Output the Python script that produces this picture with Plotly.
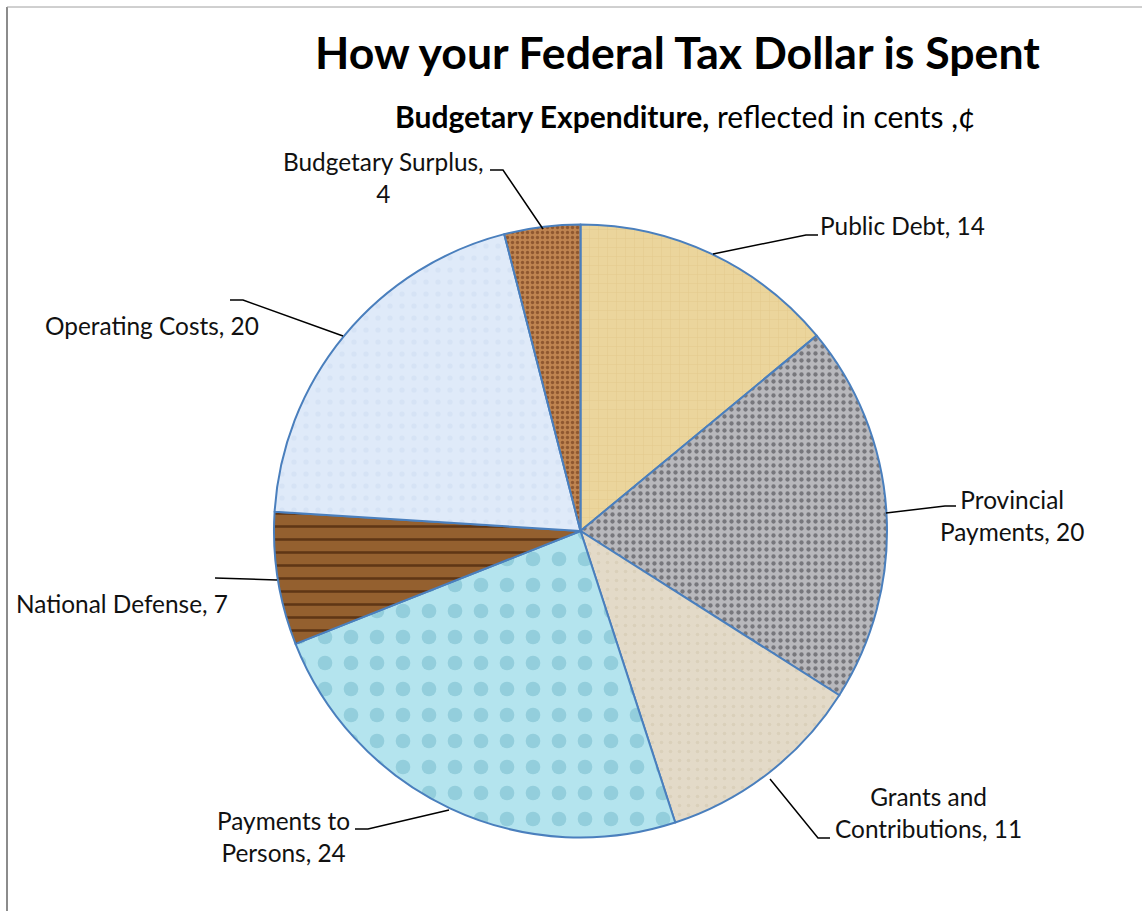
import plotly.graph_objects as go

W, H = 1142, 911
FONT = "Lato"

categories = ["Public Debt", "Provincial Payments", "Grants and Contributions",
              "Payments to Persons", "National Defense", "Operating Costs", "Budgetary Surplus"]
values = [14, 20, 11, 24, 7, 20, 4]
label_text = ["Public Debt, 14", "Provincial<br>Payments, 20", "Grants and<br>Contributions, 11",
              "Payments to<br>Persons, 24", "National Defense, 7", "Operating Costs, 20",
              "Budgetary Surplus,<br>4"]
label_px = [(902, 226), (1012, 515), (928, 812), (283, 836), (122, 603), (152, 325), (383, 177)]
leaders = [
    [(713, 254), (806, 235), (818, 235)],
    [(886, 513), (945, 506), (956, 506)],
    [(770, 779), (818, 838), (830, 838)],
    [(449, 810), (368, 829), (355, 829)],
    [(277, 580), (215, 578)],
    [(343, 336), (243, 300), (230, 300)],
    [(543, 229), (503, 170), (490, 170)],
]
bg_colors = ["#EBD59C", "#B8B8BC", "#E3DAC8", "#B4E4EE", "#94602F", "#DFEAF9", "#BF8450"]
fg_colors = ["#E2C98C", "#77777C", "#DAD0BA", "#93CEDC", "#5F3615", "#D6E3F5", "#8F5830"]
shapes_p = ["+", ".", ".", ".", "-", ".", "."]
sizes = [9, 7, 9, 26, 13, 12, 5]
solid = [0.1, 0.3, 0.12, 0.25, 0.2, 0.15, 0.35]

CX, CY, R = 580.5, 531, 306.5


def px(x):
    return x / W


def py(y):
    return 1 - y / H


fig = go.Figure(go.Pie(
    labels=categories, values=values, sort=False, direction="clockwise", rotation=0,
    textinfo="none", hoverinfo="label+value", showlegend=False,
    domain=dict(x=[px(CX - R), px(CX + R)], y=[py(CY + R), py(CY - R)]),
    marker=dict(colors=bg_colors, line=dict(color="#4A7FBD", width=2),
                pattern=dict(shape=shapes_p, bgcolor=bg_colors, fgcolor=fg_colors,
                             size=sizes, solidity=solid, fillmode="replace")),
))

annotations = [
    dict(text="How your Federal Tax Dollar is Spent", x=px(677), y=py(52),
         font=dict(family=FONT, size=44.6, color="#000000", weight="bold")),
    dict(text="<b>Budgetary Expenditure,</b> reflected in cents ,¢", x=px(685), y=py(116),
         font=dict(family=FONT, size=30, color="#000000")),
]
for t, (x, y) in zip(label_text, label_px):
    annotations.append(dict(text=t, x=px(x), y=py(y), align="center",
                            font=dict(family=FONT, size=24.4, color="#111111")))
for a in annotations:
    a.update(showarrow=False, xanchor="center", yanchor="middle", xref="paper", yref="paper")

shapes = [
    dict(type="line", xref="paper", yref="paper", x0=px(7), x1=px(7), y0=0, y1=py(7),
         line=dict(color="#8C8C8C", width=2)),
    dict(type="line", xref="paper", yref="paper", x0=px(7), x1=1, y0=py(7), y1=py(7),
         line=dict(color="#A0A0A0", width=1)),
]
for pts in leaders:
    path = "M " + " L ".join(f"{px(x):.5f},{py(y):.5f}" for x, y in pts)
    shapes.append(dict(type="path", xref="paper", yref="paper", path=path,
                       line=dict(color="#000000", width=1.5)))

fig.update_layout(width=W, height=H, margin=dict(l=0, r=0, t=0, b=0),
                  paper_bgcolor="#FFFFFF", annotations=annotations, shapes=shapes)
fig.write_html("out.html", config={"displayModeBar": False},
               post_script="document.body.style.margin='0';")
